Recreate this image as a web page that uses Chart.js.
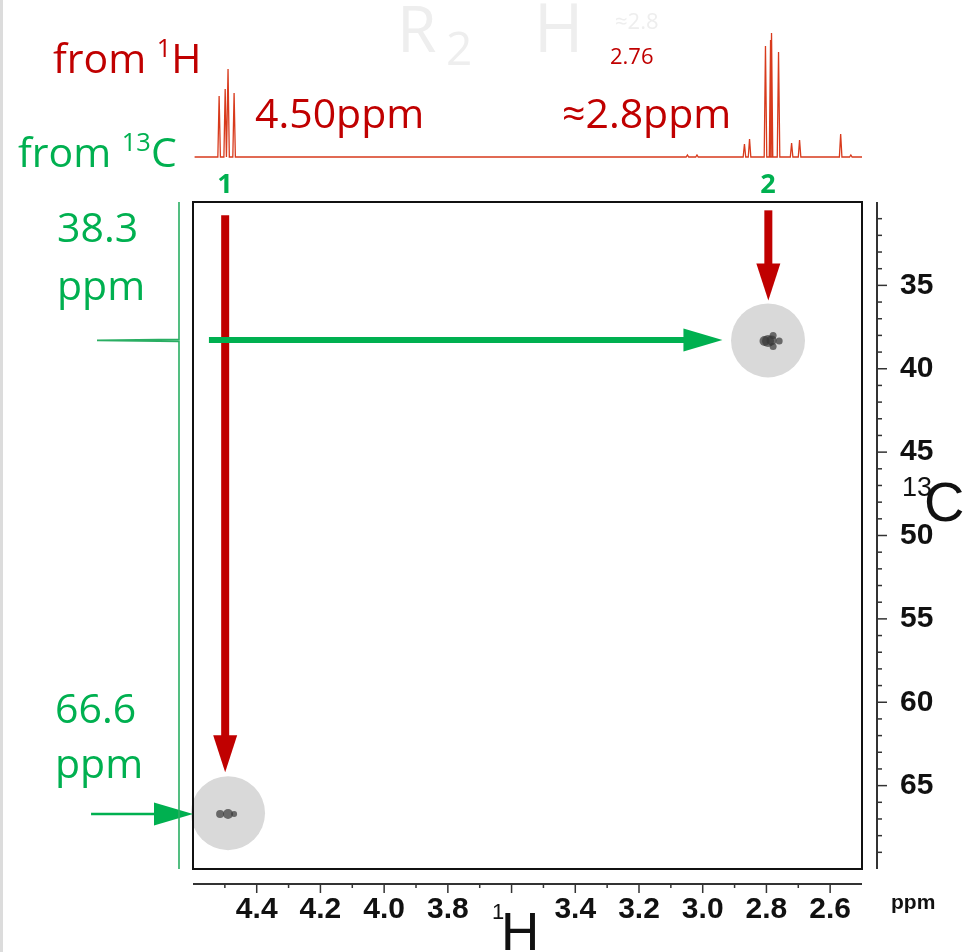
<!DOCTYPE html>
<html>
<head>
<meta charset="utf-8">
<script src="https://cdn.jsdelivr.net/npm/chart.js@4.4.1/dist/chart.umd.min.js"></script>
<style>
  html,body{margin:0;padding:0;background:#fff;}
  body{width:965px;height:952px;position:relative;overflow:hidden;font-family:"Open Sans",sans-serif;}
  .edge{position:absolute;left:0;top:0;width:3px;height:952px;background:#dcdcdc;}
  canvas{position:absolute;left:0;top:0;}
  .t{position:absolute;white-space:nowrap;line-height:1;}
  .red{color:#c00000;}
  .green{color:#00b050;}
  .ghost{color:#eeeeee;}
  .ax{font-family:"Liberation Sans",Arial,sans-serif;color:#111;}
  sup{font-size:0.62em;vertical-align:0.62em;line-height:0;}
</style>
</head>
<body>
<div class="edge"></div>
<canvas id="main" width="965" height="952"></canvas>
<canvas id="hproj" width="965" height="170"></canvas>
<canvas id="cproj" width="193" height="952"></canvas>

<!-- faint background structure labels -->
<div class="t ghost" style="left:397px;top:-4px;font-size:64px;">R</div>
<div class="t ghost" style="left:446px;top:24px;font-size:46px;">2</div>
<div class="t ghost" style="left:534px;top:-7px;font-size:67px;">H</div>
<div class="t ghost" style="left:615px;top:9px;font-size:22px;">≈2.8</div>
<div class="t red" style="left:610px;top:44px;font-size:22px;">2.76</div>

<div class="t red" style="left:53px;top:37px;font-size:41px;">from <sup>1</sup>H</div>
<div class="t green" style="left:18px;top:131px;font-size:41px;">from <sup>13</sup>C</div>
<div class="t red" style="left:255px;top:92px;font-size:41px;">4.50ppm</div>
<div class="t red" style="left:562px;top:92px;font-size:41px;">≈2.8ppm</div>
<div class="t green" style="left:208px;top:169px;width:34px;text-align:center;font-size:27px;font-weight:bold;">1</div>
<div class="t green" style="left:751px;top:169px;width:34px;text-align:center;font-size:27px;font-weight:bold;">2</div>

<div class="t green" style="left:57px;top:206px;font-size:41px;">38.3</div>
<div class="t green" style="left:57px;top:264px;font-size:41px;">ppm</div>
<div class="t green" style="left:55px;top:687px;font-size:41px;">66.6</div>
<div class="t green" style="left:55px;top:742px;font-size:41px;">ppm</div>

<!-- axis titles -->
<div class="t ax" style="left:492px;top:901px;font-size:22px;">1</div>
<div class="t ax" style="left:501px;top:905px;font-size:53px;">H</div>
<div class="t ax" style="left:902px;top:474px;font-size:27px;">13</div>
<div class="t ax" style="left:924px;top:474px;font-size:56px;">C</div>
<div class="t ax" style="left:891px;top:891px;font-size:21px;font-weight:bold;">ppm</div>

<script>
// axis ranges (both reversed, ppm)
const hRange = [2.5, 4.6];
const cRange = [30, 70];
const hTickLabels = [4.4, 4.2, 4.0, 3.8, 3.4, 3.2, 3.0, 2.8, 2.6];
const cTickLabels = [35, 40, 45, 50, 55, 60, 65];

// 1H projection lines
const hPeakPpm    = [4.518, 4.499, 4.490, 4.471, 3.048, 3.018, 2.869, 2.853, 2.803, 2.787, 2.784, 2.762, 2.721, 2.696, 2.567, 2.535];
const hPeakHeight = [61, 68, 88, 64, 2, 2, 13, 18, 111, 117, 124, 105, 14, 17, 23, 2];

// 13C projection
const cPeakPpm    = [38.3];
const cPeakHeight = [82];

// HSQC cross peaks
const crossH = [4.49, 2.795];
const crossC = [66.65, 38.3];
// contour blobs inside the cross peaks
const blobH = [4.515, 4.49, 4.471, 2.806, 2.795, 2.784, 2.760, 2.779, 2.779];
const blobC = [66.7, 66.7, 66.7, 38.34, 38.34, 38.3, 38.34, 38.0, 38.66];
const blobR = [4, 5, 3, 5, 6, 5, 3.5, 3.5, 3.5];

// arrows (ppm coordinates, start -> tip)
const redArrowH  = [4.499, 2.794];
const redArrowC0 = [30.8, 30.5];
const redArrowC1 = [64.2, 35.9];
const greenArrowC  = [38.28, 66.7];
const greenArrowH0 = [4.55, 4.92];
const greenArrowH1 = [2.938, 4.6];
const greenShaft   = [6, 2.5];

const RED = '#c00000', GREEN = '#00b050';
const AXFONT = "'Liberation Sans', Arial, sans-serif";

/* stick spectrum: each line -> narrow triangle on a zero baseline */
function stickPoints(pos, hts, w, from, to){
  const pts = [{x:from, y:0}];
  pos.map((p,i)=>[p,hts[i]]).sort((a,b)=>b[0]-a[0]).forEach(([p,h])=>{
    pts.push({x:p+w,y:0},{x:p,y:h},{x:p-w,y:0});
  });
  pts.push({x:to, y:0});
  return pts;
}

function drawArrow(ctx,x1,y1,x2,y2,color,shaft,headW,headL){
  const dx=x2-x1, dy=y2-y1, len=Math.hypot(dx,dy), ux=dx/len, uy=dy/len;
  const bx=x2-ux*headL, by=y2-uy*headL;
  ctx.strokeStyle=color; ctx.lineWidth=shaft; ctx.lineCap='butt';
  ctx.beginPath(); ctx.moveTo(x1,y1); ctx.lineTo(bx+ux*2,by+uy*2); ctx.stroke();
  ctx.fillStyle=color; ctx.beginPath(); ctx.moveTo(x2,y2);
  ctx.lineTo(bx-uy*headW/2, by+ux*headW/2);
  ctx.lineTo(bx+uy*headW/2, by-ux*headW/2);
  ctx.closePath(); ctx.fill();
}

const isIn = (list,v) => list.some(l=>Math.abs(l-v)<1e-6);

/* frame, offset axes and arrows */
const overlay = {
  id:'overlay',
  afterDraw(chart){
    const {ctx, chartArea:a, scales:{x,y}} = chart;
    ctx.save();
    // plot frame
    ctx.strokeStyle='#111'; ctx.lineWidth=2;
    ctx.strokeRect(a.left, a.top, a.right-a.left, a.bottom-a.top);
    // bottom axis (offset)
    const ay = a.bottom+15;
    ctx.strokeStyle='#333'; ctx.lineWidth=2;
    ctx.beginPath(); ctx.moveTo(a.left,ay); ctx.lineTo(a.right,ay); ctx.stroke();
    ctx.lineWidth=1.5;
    x.ticks.forEach(t=>{
      const v=Math.round(t.value*10)/10;
      if(v<=x.min+1e-6||v>=x.max-1e-6) return;
      const px=x.getPixelForValue(v), major=Math.round(v*10)%2===0;
      ctx.beginPath(); ctx.moveTo(px,ay); ctx.lineTo(px,ay+(major?9:4)); ctx.stroke();
    });
    // right axis (offset)
    const ax = a.right+15;
    ctx.lineWidth=2;
    ctx.beginPath(); ctx.moveTo(ax,a.top); ctx.lineTo(ax,a.bottom); ctx.stroke();
    ctx.lineWidth=1.5;
    y.ticks.forEach(t=>{
      const v=Math.round(t.value);
      if(v<=y.min||v>=y.max) return;
      const py=y.getPixelForValue(v), major=v%5===0;
      ctx.beginPath(); ctx.moveTo(ax,py); ctx.lineTo(ax+(major?10:5),py); ctx.stroke();
    });
    // arrows
    redArrowH.forEach((h,i)=>{
      drawArrow(ctx, x.getPixelForValue(h), y.getPixelForValue(redArrowC0[i]),
        x.getPixelForValue(h), y.getPixelForValue(redArrowC1[i]), RED, 8, 24, 37);
    });
    greenArrowC.forEach((c,i)=>{
      drawArrow(ctx, x.getPixelForValue(greenArrowH0[i]), y.getPixelForValue(c),
        x.getPixelForValue(greenArrowH1[i]), y.getPixelForValue(c), GREEN, greenShaft[i], 23, 39);
    });
    ctx.restore();
  }
};

new Chart(document.getElementById('main'), {
  type:'scatter',
  data:{datasets:[
    {data:crossH.map((h,i)=>({x:h,y:crossC[i]})), pointRadius:37, pointHoverRadius:37,
     backgroundColor:'#d9d9d9', borderWidth:0, clip:false, order:2},
    {data:blobH.map((h,i)=>({x:h,y:blobC[i]})), pointRadius:blobR, pointHoverRadius:blobR,
     backgroundColor:'rgba(55,55,55,0.7)', borderWidth:0, clip:false, order:1}
  ]},
  options:{
    responsive:false, animation:false,
    layout:{padding:{left:193, top:202, right:0, bottom:0}},
    plugins:{legend:{display:false}, tooltip:{enabled:false}},
    scales:{
      x:{type:'linear', position:'bottom', min:hRange[0], max:hRange[1], reverse:true,
         border:{display:false},
         grid:{drawOnChartArea:false, drawTicks:true, tickLength:22, color:'rgba(0,0,0,0)'},
         ticks:{stepSize:0.1, autoSkip:false, maxRotation:0, minRotation:0, padding:1, color:'#111',
                font:{family:AXFONT, size:30, weight:'bold'},
                callback:v=>isIn(hTickLabels,v)?Number(v).toFixed(1):''},
         afterFit:s=>{s.height=83;}},
      y:{type:'linear', position:'right', min:cRange[0], max:cRange[1], reverse:true,
         border:{display:false},
         grid:{drawOnChartArea:false, drawTicks:true, tickLength:22, color:'rgba(0,0,0,0)'},
         ticks:{stepSize:1, autoSkip:false, padding:16, color:'#111',
                font:{family:AXFONT, size:30, weight:'bold'},
                callback:v=>isIn(cTickLabels,v)?String(Math.round(v)):''},
         afterFit:s=>{s.width=103;}}
    }
  },
  plugins:[overlay]
});

// 1H projection on top
new Chart(document.getElementById('hproj'), {
  type:'scatter',
  data:{datasets:[{data:stickPoints(hPeakPpm,hPeakHeight,0.004,4.595,2.5), showLine:true,
    pointRadius:0, borderColor:'#d83a1c', borderWidth:1.3, clip:false}]},
  options:{
    responsive:false, animation:false,
    layout:{padding:{left:193, right:103, top:33, bottom:13}},
    plugins:{legend:{display:false}, tooltip:{enabled:false}},
    scales:{
      x:{type:'linear', display:false, min:hRange[0], max:hRange[1], reverse:true},
      y:{type:'linear', display:false, min:0, max:124}
    }
  }
});

// 13C projection on the left (vertical)
const cPts = [{x:0,y:cRange[0]}];
cPeakPpm.forEach((p,i)=>{ cPts.push({x:0,y:p-0.06},{x:cPeakHeight[i],y:p},{x:0,y:p+0.06}); });
cPts.push({x:0,y:cRange[1]});
new Chart(document.getElementById('cproj'), {
  type:'scatter',
  data:{datasets:[{data:cPts, showLine:true, pointRadius:0, borderColor:'#2aae63', borderWidth:1.6, clip:false}]},
  options:{
    responsive:false, animation:false,
    layout:{padding:{left:97, right:14, top:202, bottom:83}},
    plugins:{legend:{display:false}, tooltip:{enabled:false}},
    scales:{
      x:{type:'linear', display:false, min:0, max:82, reverse:true},
      y:{type:'linear', display:false, min:cRange[0], max:cRange[1], reverse:true}
    }
  }
});
</script>
</body>
</html>
